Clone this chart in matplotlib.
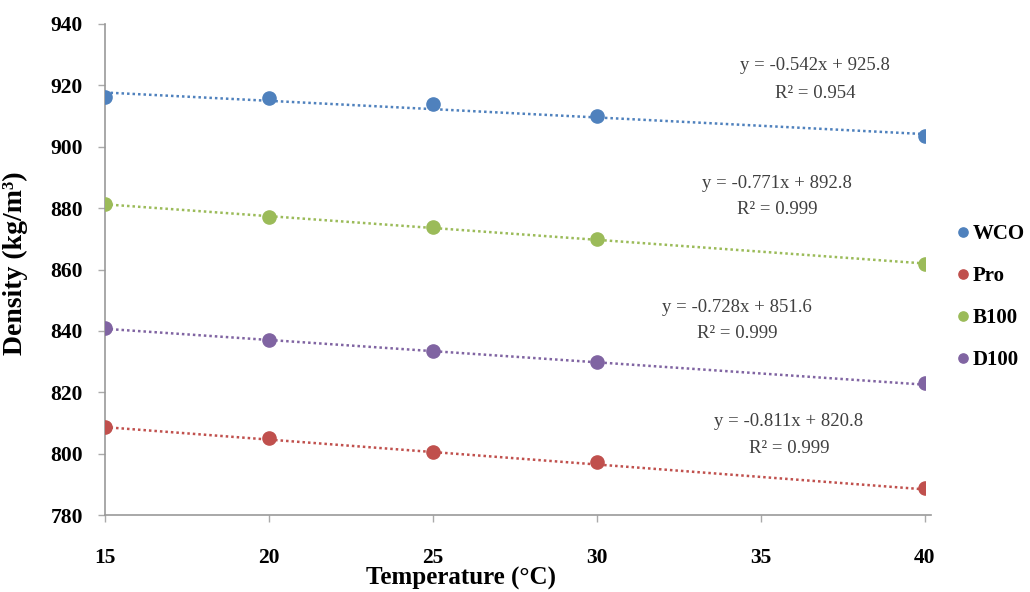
import matplotlib
matplotlib.use("Agg")
import matplotlib.pyplot as plt
import numpy as np

plt.rcParams['font.family'] = ['Liberation Serif', 'DejaVu Serif']

temperature = [15, 20, 25, 30, 40]
series_names = ["WCO", "Pro", "B100", "D100"]
density_wco = [916.3, 915.9, 914.0, 910.0, 903.4]
density_pro = [808.6, 805.2, 800.6, 797.3, 788.8]
density_b100 = [881.4, 877.2, 874.0, 869.9, 861.9]
density_d100 = [840.8, 837.0, 833.6, 830.0, 823.0]
slopes = [-0.542, -0.811, -0.771, -0.728]
intercepts = [925.8, 820.8, 892.8, 851.6]
r_squared = [0.954, 0.999, 0.999, 0.999]
colors = ["#4F81BD", "#C0504D", "#9BBB59", "#8064A2"]
y_ticks = [780, 800, 820, 840, 860, 880, 900, 920, 940]
x_ticks = [15, 20, 25, 30, 35, 40]

# trendline equation placement: (x, y of first line, y of second line) in data units
eq_pos = [(36.65, 926.6, 917.5), (35.85, 810.6, 801.8),
          (35.50, 887.9, 879.4), (34.28, 847.5, 839.0)]

fig = plt.figure(figsize=(10.3, 5.92), dpi=100)
ax = fig.add_axes([0.102, 0.130, 0.796, 0.8295])

all_density = [density_wco, density_pro, density_b100, density_d100]
xs = np.array([15, 40])
handles = []
for name, dens, m, b, r2, c, (ex, ey1, ey2) in zip(series_names, all_density, slopes,
                                                   intercepts, r_squared, colors, eq_pos):
    ax.plot(xs, m * xs + b, linestyle=(0, (1, 1.2)), color=c, lw=1.8, zorder=2)
    h, = ax.plot(temperature, dens, 'o', color=c, markersize=9.5, label=name, zorder=3)
    handles.append(h)
    ax.text(ex, ey1, f"y = {m:.3f}x + {b:.1f}", ha='center', va='center',
            fontsize=13.5, color='#404040')
    ax.text(ex, ey2, f"R² = {r2:.3f}", ha='center', va='center',
            fontsize=13.5, color='#404040')

ax.set_xlim(15, 40)
ax.set_ylim(780, 940)
ax.set_xticks(x_ticks)
ax.set_yticks(y_ticks)
for lbl in ax.get_xticklabels() + ax.get_yticklabels():
    lbl.set_fontweight('bold')
    lbl.set_fontsize(15.5)
ax.tick_params(axis='both', colors='#aaaaaa', labelcolor='black', length=5, width=1)
ax.tick_params(axis='x', pad=19)
ax.tick_params(axis='y', pad=11)
for s in ['top', 'right']:
    ax.spines[s].set_visible(False)
for s in ['left', 'bottom']:
    ax.spines[s].set_color('#999999')
    ax.spines[s].set_linewidth(1.2)
ax.spines['bottom'].set_bounds(15, 40.2)

ax.set_xlabel("Temperature (°C)", fontsize=18, fontweight='bold')
ax.xaxis.set_label_coords(0.434, -0.105)
ax.set_ylabel("Density (kg/m³)", fontsize=20, fontweight='bold')
ax.yaxis.set_label_coords(-0.094, 0.513)

fig.legend(handles=handles, labels=series_names, loc='upper left',
           bbox_to_anchor=(0.929, 0.621), frameon=False, borderpad=0, borderaxespad=0,
           handletextpad=0.15, labelspacing=1.05, handlelength=0.6, markerscale=0.7,
           prop={'weight': 'bold', 'size': 15})

fig.savefig("out.png", dpi=100)
